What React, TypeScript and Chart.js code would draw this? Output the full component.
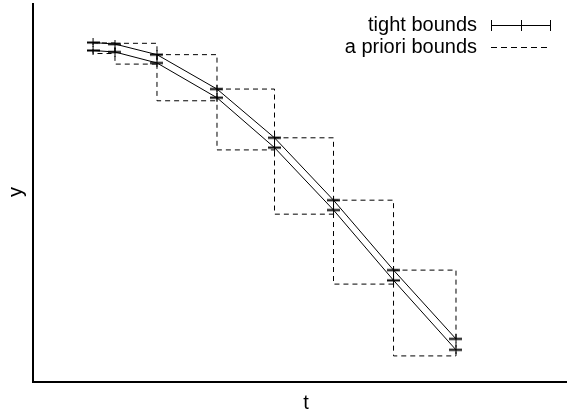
import React, { useEffect, useRef } from "react";
import { Chart, registerables } from "chart.js";

Chart.register(...registerables);

// time points of the integration steps
const tValues = [1.126, 1.538, 2.326, 3.452, 4.531, 5.638, 6.764, 7.936];
// tight enclosure: upper and lower bounds
const upperBound = [8.98, 8.94, 8.66, 7.75, 6.46, 4.81, 2.96, 1.14];
const lowerBound = [8.77, 8.73, 8.44, 7.52, 6.2, 4.55, 2.69, 0.85];
// a priori enclosures over each step [t_i, t_i+1]
const aprioriTop = [8.97, 8.96, 8.66, 7.75, 6.46, 4.81, 2.96];
const aprioriBottom = [8.69, 8.41, 7.44, 6.14, 4.44, 2.59, 0.69];

const legendLabels = ["tight bounds", "a priori bounds"];
const xTitle = "t";
const yTitle = "y";

const FONT = '20px "Liberation Sans", Arial, sans-serif';

function makeMarker(): HTMLCanvasElement {
  const c = document.createElement("canvas");
  c.width = 13;
  c.height = 9;
  const g = c.getContext("2d")!;
  g.fillStyle = "#000";
  g.fillRect(0, 3.5, 13, 2);
  g.fillRect(6, 0, 1, 9);
  return c;
}

export default function App() {
  const ref = useRef<HTMLCanvasElement | null>(null);

  useEffect(() => {
    if (!ref.current) return;
    const marker = makeMarker();

    const boxSets = aprioriTop.map((top, i) => {
      const l = tValues[i];
      const r = tValues[i + 1];
      const b = aprioriBottom[i];
      return {
        label: "apriori" + i,
        data: [
          { x: l, y: top },
          { x: r, y: top },
          { x: r, y: b },
          { x: l, y: b },
          { x: l, y: top },
        ],
        borderColor: "#000",
        borderWidth: 1,
        borderDash: [5, 4],
        pointRadius: 0,
        tension: 0,
        fill: false,
      };
    });

    const lineSet = (arr: number[], label: string) => ({
      label,
      data: tValues.map((t, i) => ({ x: t, y: arr[i] })),
      borderColor: "#000",
      borderWidth: 1,
      pointStyle: marker as any,
      pointRadius: 6,
      tension: 0,
      fill: false,
    });

    const overlay = {
      id: "overlay",
      afterDraw(chart: any) {
        const ctx = chart.ctx as CanvasRenderingContext2D;
        ctx.save();
        ctx.fillStyle = "#000";
        ctx.strokeStyle = "#000";
        ctx.font = FONT;
        ctx.textBaseline = "middle";
        // legend
        ctx.textAlign = "right";
        ctx.fillText(legendLabels[0], 477, 25);
        ctx.fillText(legendLabels[1], 477, 47);
        ctx.lineWidth = 1;
        ctx.setLineDash([]);
        ctx.beginPath();
        ctx.moveTo(491, 25.5);
        ctx.lineTo(551, 25.5);
        for (const x of [491.5, 521.5, 550.5]) {
          ctx.moveTo(x, 20);
          ctx.lineTo(x, 31);
        }
        ctx.stroke();
        ctx.setLineDash([6, 4]);
        ctx.beginPath();
        ctx.moveTo(491, 47.5);
        ctx.lineTo(551, 47.5);
        ctx.stroke();
        ctx.setLineDash([]);
        // axis titles
        ctx.textAlign = "center";
        ctx.fillText(xTitle, 306, 403);
        ctx.translate(16, 192);
        ctx.rotate(-Math.PI / 2);
        ctx.fillText(yTitle, 0, 0);
        ctx.restore();
      },
    };

    const chart = new Chart(ref.current, {
      type: "line",
      data: {
        datasets: [
          lineSet(upperBound, "upper"),
          lineSet(lowerBound, "lower"),
          ...boxSets,
        ] as any,
      },
      options: {
        animation: false,
        responsive: false,
        maintainAspectRatio: false,
        layout: { autoPadding: false, padding: { left: 33, top: 4, right: 1, bottom: 32 } },
        plugins: {
          legend: { display: false },
          tooltip: { enabled: false },
        },
        scales: {
          x: {
            type: "linear",
            min: 0,
            max: 10,
            grid: { display: false, drawTicks: false },
            ticks: { display: false },
            border: { display: true, color: "#000", width: 2 },
          },
          y: {
            type: "linear",
            min: 0,
            max: 10,
            grid: { display: false, drawTicks: false },
            ticks: { display: false },
            border: { display: true, color: "#000", width: 2 },
          },
        },
      },
      plugins: [overlay],
    });
    return () => chart.destroy();
  }, []);

  return (
    <div style={{ position: "fixed", left: 0, top: 0, width: 567, height: 414, background: "#fff" }}>
      <canvas ref={ref} width={567} height={414} style={{ width: 567, height: 414 }} />
    </div>
  );
}
